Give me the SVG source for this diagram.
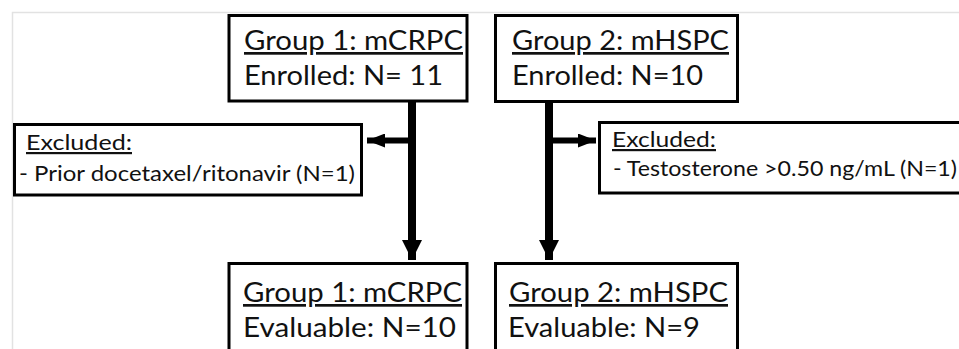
<svg xmlns="http://www.w3.org/2000/svg" width="959" height="349" viewBox="0 0 959 349">
<style>
.box{fill:#fff;stroke:#000;stroke-width:3}
.t{font-family:Lato,"Noto Sans",sans-serif;fill:#111}
.big{font-size:27px}
.sm{font-size:22px}
.u{text-decoration:underline}
.c{stroke:#000;fill:none}
</style>
<defs>
<marker id="hv" markerUnits="userSpaceOnUse" markerWidth="20" markerHeight="20" viewBox="0 0 20 20" refX="20" refY="10" orient="auto">
<path d="M0,0 L20,10 L0,20 Z" fill="#000"/>
</marker>
<marker id="hh" markerUnits="userSpaceOnUse" markerWidth="18" markerHeight="14" viewBox="0 0 18 14" refX="18" refY="7" orient="auto">
<path d="M0,0 L18,7 L0,14 Z" fill="#000"/>
</marker>
</defs>
<rect width="959" height="349" fill="#fff"/>
<path d="M12.5,349 V12.5 H959" fill="none" stroke="#e2e2e2" stroke-width="1.5"/>
<g id="connectors">
<line class="c" x1="412" y1="101" x2="412" y2="260" stroke-width="8" marker-end="url(#hv)"/>
<line class="c" x1="412" y1="140.5" x2="367" y2="140.5" stroke-width="6" marker-end="url(#hh)"/>
<line class="c" x1="549" y1="102" x2="549" y2="260" stroke-width="8" marker-end="url(#hv)"/>
<line class="c" x1="549" y1="140.5" x2="596" y2="140.5" stroke-width="6" marker-end="url(#hh)"/>
</g>
<g id="g1-enrolled">
<rect class="box" x="229" y="15.5" width="238" height="85.5"/>
<text class="t big u" x="244" y="50" textLength="219" lengthAdjust="spacingAndGlyphs">Group 1: mCRPC</text>
<text class="t big" x="244" y="85" textLength="199" lengthAdjust="spacingAndGlyphs">Enrolled: N= 11</text>
</g>
<g id="g2-enrolled">
<rect class="box" x="495.5" y="15.5" width="242" height="86"/>
<text class="t big u" x="512" y="50" textLength="217" lengthAdjust="spacingAndGlyphs">Group 2: mHSPC</text>
<text class="t big" x="512" y="85" textLength="191" lengthAdjust="spacingAndGlyphs">Enrolled: N=10</text>
</g>
<g id="g1-excluded">
<rect class="box" x="14.5" y="124.5" width="347" height="70.5"/>
<text class="t sm u" x="26" y="150" textLength="106" lengthAdjust="spacingAndGlyphs">Excluded:</text>
<text class="t sm" x="19" y="181" textLength="336" lengthAdjust="spacingAndGlyphs">- Prior docetaxel/ritonavir (N=1)</text>
</g>
<g id="g2-excluded">
<rect class="box" x="599.5" y="122.5" width="362" height="70.5"/>
<text class="t sm u" x="612" y="147" textLength="104" lengthAdjust="spacingAndGlyphs">Excluded:</text>
<text class="t sm" x="613" y="176" textLength="344" lengthAdjust="spacingAndGlyphs">- Testosterone &gt;0.50 ng/mL (N=1)</text>
</g>
<g id="g1-evaluable">
<rect class="box" x="229" y="263.5" width="238" height="100"/>
<text class="t big u" x="243" y="302" textLength="219" lengthAdjust="spacingAndGlyphs">Group 1: mCRPC</text>
<text class="t big" x="243" y="337" textLength="213" lengthAdjust="spacingAndGlyphs">Evaluable: N=10</text>
</g>
<g id="g2-evaluable">
<rect class="box" x="495.5" y="263.5" width="242" height="100"/>
<text class="t big u" x="509" y="302" textLength="219" lengthAdjust="spacingAndGlyphs">Group 2: mHSPC</text>
<text class="t big" x="508" y="337" textLength="192" lengthAdjust="spacingAndGlyphs">Evaluable: N=9</text>
</g>
</svg>
